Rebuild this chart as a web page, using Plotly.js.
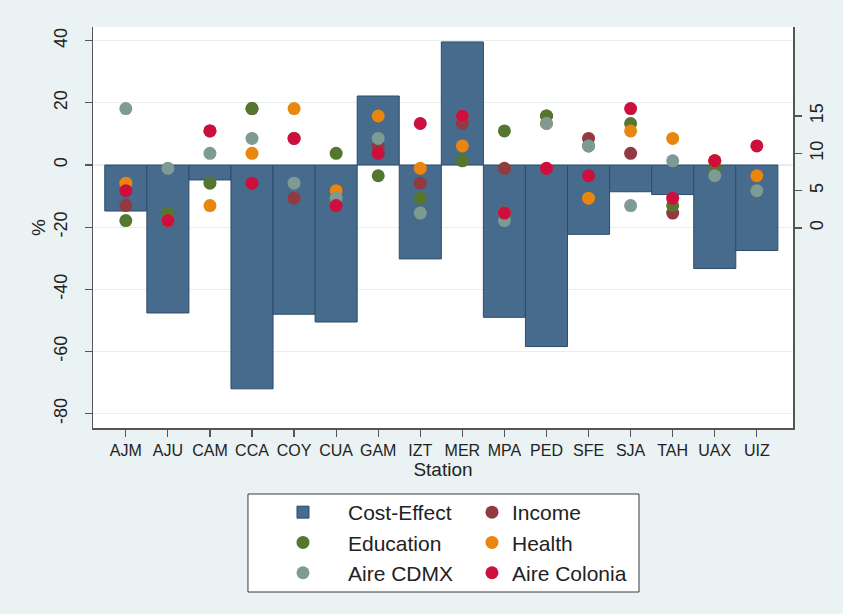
<!DOCTYPE html>
<html>
<head>
<meta charset="utf-8">
<script src="https://cdn.plot.ly/plotly-3.0.1.min.js"></script>
<style>html,body{margin:0;padding:0;background:#eaf2f3;}</style>
</head>
<body>
<div id="chart" style="width:843px;height:614px;"></div>
<script>
const stations = ["AJM","AJU","CAM","CCA","COY","CUA","GAM","IZT","MER","MPA","PED","SFE","SJA","TAH","UAX","UIZ"];
const costEffect = [-14.8,-47.6,-4.8,-72,-48,-50.5,22.2,-30.2,39.6,-49,-58.4,-22.3,-8.6,-9.5,-33.3,-27.5];
const income      = [3,1,13,16,4,5,11,6,14,8,15,12,10,2,9,7];
const education   = [1,2,6,16,12,10,7,4,9,13,15,11,14,3,8,5];
const health      = [6,1,3,10,16,5,15,8,11,2,14,4,13,12,9,7];
const aireCDMX    = [16,8,10,12,6,4,12,2,15,1,14,11,3,9,7,5];
const aireColonia = [5,1,13,6,12,3,10,14,15,2,8,7,16,4,9,11];
const rightTicks = [0,5,10,15];
const leftTicks = [-80,-60,-40,-20,0,20,40];
const leftTickText = ["-80","-60","-40","-20","0","20","40"];

const FONT = "Liberation Sans, Arial, sans-serif";
const dot = (name, y, color, legend) => ({
  type: "scatter", mode: "markers", name: name, x: stations, y: y, yaxis: "y2",
  legend: legend,
  marker: {color: color, size: 13, line: {width: 0}},
  hoverinfo: "x+y+name"
});

const data = [
  {type: "bar", name: "Cost-Effect", x: stations, y: costEffect, legend: "legend",
   marker: {color: "#476b8c", line: {color: "#2c4d6c", width: 1}}},
  dot("Income", income, "#913a3f", "legend2"),
  dot("Education", education, "#55762e", "legend"),
  dot("Health", health, "#e8860f", "legend2"),
  dot("Aire CDMX", aireCDMX, "#7d9a93", "legend"),
  dot("Aire Colonia", aireColonia, "#cc0f3c", "legend2")
];

const legendCommon = {
  orientation: "v", xanchor: "left", yanchor: "top",
  bgcolor: "rgba(0,0,0,0)", borderwidth: 0,
  font: {family: FONT, size: 21, color: "#222"},
  tracegroupgap: 0
};

const layout = {
  width: 843, height: 614,
  paper_bgcolor: "#eaf2f3", plot_bgcolor: "#ffffff",
  margin: {l: 93, r: 50, t: 27, b: 186},
  bargap: 0,
  font: {family: FONT, color: "#222"},
  xaxis: {
    type: "category", range: [-0.78, 15.86],
    showline: true, linecolor: "#555", linewidth: 1.5, mirror: false,
    ticks: "outside", ticklen: 7, tickcolor: "#555", tickwidth: 1.2,
    tickfont: {family: FONT, size: 16, color: "#222"},
    showgrid: false, zeroline: false, automargin: false,
    title: {text: "Station", font: {family: FONT, size: 19, color: "#222"}, standoff: 4}
  },
  yaxis: {
    range: [-84.6, 44.4], tickvals: leftTicks, ticktext: leftTickText,
    showline: true, linecolor: "#555", linewidth: 1.5,
    ticks: "outside", ticklen: 7, tickcolor: "#555", tickwidth: 1.2,
    tickangle: -90, ticklabelstandoff: 10,
    tickfont: {family: FONT, size: 18, color: "#222"},
    showgrid: true, gridcolor: "#e6eef0", gridwidth: 1.2,
    zeroline: false, automargin: false,
    title: {text: "%", font: {family: FONT, size: 19, color: "#222"}, standoff: 0}
  },
  yaxis2: {
    overlaying: "y", side: "right", range: [-26.78, 26.92], tickvals: rightTicks,
    showline: true, linecolor: "#555", linewidth: 1.5,
    ticks: "outside", ticklen: 7, tickcolor: "#555", tickwidth: 1.2,
    tickangle: -90, ticklabelstandoff: 0,
    tickfont: {family: FONT, size: 18, color: "#222"},
    showgrid: false, zeroline: false, automargin: false
  },
  legend: Object.assign({}, legendCommon, {x: 0.2357, y: -0.1596, itemwidth: 80}),
  legend2: Object.assign({}, legendCommon, {x: 0.5414, y: -0.1596, itemwidth: 30}),
  shapes: [{
    type: "rect", xref: "paper", yref: "paper",
    x0: 0.2214, x1: 0.78, y0: -0.409, y1: -0.1646,
    fillcolor: "#ffffff", line: {color: "#3a3a3a", width: 1}, layer: "below"
  }]
};

Plotly.newPlot("chart", data, layout, {displayModeBar: false, staticPlot: true});
</script>
</body>
</html>
